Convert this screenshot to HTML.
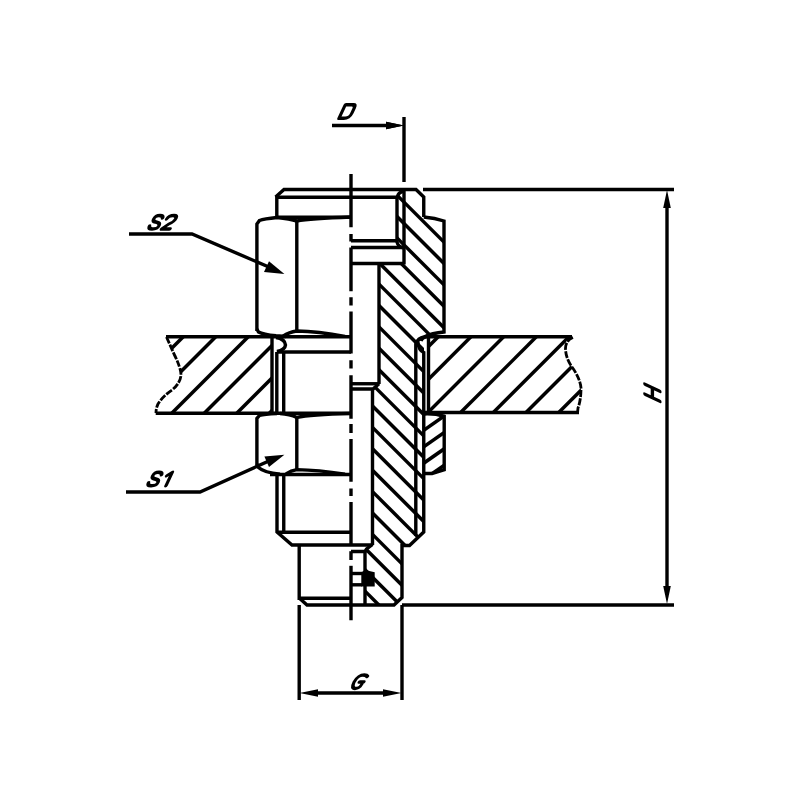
<!DOCTYPE html>
<html><head><meta charset="utf-8"><style>
html,body{margin:0;padding:0;background:#fff;}
svg{display:block;}
</style></head><body>
<svg width="800" height="800" viewBox="0 0 800 800">
<rect width="800" height="800" fill="#fff"/>
<defs>
<clipPath id="cb"><polygon points="397,197 399,192 404,190 404,189.5 416,189.5 424,197 424,217 444,221 444,332 432,334 424,337 424,532 410,545.5 402,545.5 402,597.5 394,605 365,605 365,551.5 367,549 372.5,544.5 372.5,389 379,383.75 379,263.5 404,263.5 404,248 400,246 397,242" fill="#000" stroke="none"/></clipPath>
<clipPath id="cn"><polygon points="424,414 435,414 444,416 444,469.7 432,473.5 424,473.5" fill="#000" stroke="none"/></clipPath>
<clipPath id="cl"><polygon points="166.5,337 272,337 272,413 156,413 156,408 158,404 163,397 172,390 180,383 181,375 178,364 174,354" fill="#000" stroke="none"/></clipPath>
<clipPath id="cr"><polygon points="428.5,337 573,337 566.5,341 565.5,348 566.5,358 572,367 578,376 581,388 580,400 578,408 577.5,413 428.5,413" fill="#000" stroke="none"/></clipPath>
</defs>
<g stroke="#000" fill="none" stroke-linecap="butt" stroke-linejoin="miter">
<g clip-path="url(#cb)"><line x1="350" y1="148.1" x2="450" y2="248.1" stroke-width="3.5"/><line x1="350" y1="169.5" x2="450" y2="269.5" stroke-width="3.5"/><line x1="350" y1="190.9" x2="450" y2="290.9" stroke-width="3.5"/><line x1="350" y1="212.3" x2="450" y2="312.3" stroke-width="3.5"/><line x1="350" y1="233.7" x2="450" y2="333.7" stroke-width="3.5"/><line x1="350" y1="255.1" x2="450" y2="355.1" stroke-width="3.5"/><line x1="350" y1="276.5" x2="450" y2="376.5" stroke-width="3.5"/><line x1="350" y1="297.9" x2="450" y2="397.9" stroke-width="3.5"/><line x1="350" y1="319.29999999999995" x2="450" y2="419.29999999999995" stroke-width="3.5"/><line x1="350" y1="340.7" x2="450" y2="440.7" stroke-width="3.5"/><line x1="350" y1="362.1" x2="450" y2="462.1" stroke-width="3.5"/><line x1="350" y1="383.5" x2="450" y2="483.5" stroke-width="3.5"/><line x1="350" y1="404.9" x2="450" y2="504.9" stroke-width="3.5"/><line x1="350" y1="426.29999999999995" x2="450" y2="526.3" stroke-width="3.5"/><line x1="350" y1="447.7" x2="450" y2="547.7" stroke-width="3.5"/><line x1="350" y1="469.09999999999997" x2="450" y2="569.0999999999999" stroke-width="3.5"/><line x1="350" y1="490.5" x2="450" y2="590.5" stroke-width="3.5"/><line x1="350" y1="511.9" x2="450" y2="611.9" stroke-width="3.5"/><line x1="350" y1="533.3" x2="450" y2="633.3" stroke-width="3.5"/><line x1="350" y1="554.7" x2="450" y2="654.7" stroke-width="3.5"/><line x1="350" y1="576.0999999999999" x2="450" y2="676.0999999999999" stroke-width="3.5"/><line x1="350" y1="597.5" x2="450" y2="697.5" stroke-width="3.5"/><line x1="350" y1="618.9" x2="450" y2="718.9" stroke-width="3.5"/></g><g clip-path="url(#cl)"><line x1="140" y1="347.5" x2="290" y2="197.5" stroke-width="3.5"/><line x1="140" y1="380.0" x2="290" y2="230.0" stroke-width="3.5"/><line x1="140" y1="412.5" x2="290" y2="262.5" stroke-width="3.5"/><line x1="140" y1="445.0" x2="290" y2="295.0" stroke-width="3.5"/><line x1="140" y1="477.5" x2="290" y2="327.5" stroke-width="3.5"/><line x1="140" y1="510.0" x2="290" y2="360.0" stroke-width="3.5"/><line x1="140" y1="542.5" x2="290" y2="392.5" stroke-width="3.5"/></g><g clip-path="url(#cr)"><line x1="420" y1="322.29999999999995" x2="600" y2="142.29999999999995" stroke-width="3.5"/><line x1="420" y1="355.0" x2="600" y2="175.0" stroke-width="3.5"/><line x1="420" y1="387.70000000000005" x2="600" y2="207.70000000000005" stroke-width="3.5"/><line x1="420" y1="420.4" x2="600" y2="240.39999999999998" stroke-width="3.5"/><line x1="420" y1="453.1" x2="600" y2="273.1" stroke-width="3.5"/><line x1="420" y1="485.79999999999995" x2="600" y2="305.79999999999995" stroke-width="3.5"/><line x1="420" y1="518.5" x2="600" y2="338.5" stroke-width="3.5"/><line x1="420" y1="551.2" x2="600" y2="371.20000000000005" stroke-width="3.5"/><line x1="420" y1="583.9000000000001" x2="600" y2="403.9000000000001" stroke-width="3.5"/></g><g clip-path="url(#cn)"><line x1="420" y1="416.7" x2="450" y2="395.7" stroke-width="3.5"/><line x1="420" y1="433.0" x2="450" y2="412.0" stroke-width="3.5"/><line x1="420" y1="449.5" x2="450" y2="428.5" stroke-width="3.5"/><line x1="420" y1="465.8" x2="450" y2="444.8" stroke-width="3.5"/><line x1="420" y1="482.1" x2="450" y2="461.1" stroke-width="3.5"/></g><line x1="351" y1="174" x2="351" y2="227.25" stroke-width="3.4"/><line x1="351" y1="234" x2="351" y2="241.5" stroke-width="3.4"/><line x1="351" y1="247.5" x2="351" y2="291.25" stroke-width="3.4"/><line x1="351" y1="297.25" x2="351" y2="305.5" stroke-width="3.4"/><line x1="351" y1="311.5" x2="351" y2="353.5" stroke-width="3.4"/><line x1="351" y1="360.25" x2="351" y2="368.5" stroke-width="3.4"/><line x1="351" y1="375.25" x2="351" y2="418.75" stroke-width="3.4"/><line x1="351" y1="424" x2="351" y2="433" stroke-width="3.4"/><line x1="351" y1="439" x2="351" y2="481.75" stroke-width="3.4"/><line x1="351" y1="488.5" x2="351" y2="496" stroke-width="3.4"/><line x1="351" y1="502" x2="351" y2="544.7" stroke-width="3.4"/><line x1="351" y1="551.2" x2="351" y2="560" stroke-width="3.4"/><line x1="351" y1="565.8" x2="351" y2="620.25" stroke-width="3.4"/><line x1="332" y1="125.5" x2="390" y2="125.5" stroke-width="3.4"/><polygon points="404,125.5 386,121.8 386,129.2" fill="#000" stroke="none"/><line x1="404" y1="117" x2="404" y2="182" stroke-width="3.4"/><line x1="423" y1="189.5" x2="674" y2="189.5" stroke-width="3.4"/><line x1="402" y1="605" x2="674" y2="605" stroke-width="3.4"/><line x1="667" y1="200" x2="667" y2="595" stroke-width="3.4"/><polygon points="667,190 663.2,208 670.8,208" fill="#000" stroke="none"/><polygon points="667,604 663.2,586 670.8,586" fill="#000" stroke="none"/><line x1="299.2" y1="605" x2="299.2" y2="700" stroke-width="3.4"/><line x1="402" y1="605" x2="402" y2="700" stroke-width="3.4"/><line x1="310" y1="693" x2="392" y2="693" stroke-width="3.4"/><polygon points="299.5,693 318,689.3 318,696.7" fill="#000" stroke="none"/><polygon points="401.5,693 383,689.3 383,696.7" fill="#000" stroke="none"/><path d="M129,234 L192,234 L270,267.5" stroke-width="3.4" fill="none"/><polygon points="284.4,274 269,261.3 264,272" fill="#000" stroke="none"/><path d="M126,492 L200,492 L270,460.5" stroke-width="3.4" fill="none"/><polygon points="284.4,454.7 264.4,456.6 269,467" fill="#000" stroke="none"/><path d="M275.6,197 L284,189.5 L416,189.5 L423.75,197 L423.75,217" stroke-width="3.4" fill="none"/><line x1="276.8" y1="197.25" x2="397" y2="197.25" stroke-width="3.4"/><path d="M276.8,196 L276.8,217.25 L351,217.25" stroke-width="3.4" fill="none"/><line x1="404" y1="188" x2="404" y2="264.5" stroke-width="3.4"/><path d="M404,191 Q398,192 397,198 L397,242 Q398,247 404,248" stroke-width="3.4" fill="none"/><line x1="351" y1="240.75" x2="397" y2="240.75" stroke-width="3.4"/><line x1="351" y1="247.5" x2="404" y2="247.5" stroke-width="3.4"/><line x1="351" y1="263.5" x2="404" y2="263.5" stroke-width="3.4"/><path d="M256.9,331 L256.9,224 L259.5,220.5 Q264,218.8 277,217.5 Q290,219 296.8,221 Q310,218.5 351,217" stroke-width="3.4" fill="none"/><line x1="296.8" y1="220" x2="296.8" y2="331.5" stroke-width="3.4"/><path d="M256.9,329 L258.5,332 Q263,334.5 276,335.8 L286,336.5" stroke-width="3.4" fill="none"/><path d="M283,336.2 Q289,332 296.8,331 Q318,331.5 345,336.3" stroke-width="3.4" fill="none"/><path d="M423.75,217 Q435,218 444,221 L444,332 Q432,333 424,337" stroke-width="3.4" fill="none"/><line x1="379" y1="263.5" x2="379" y2="384" stroke-width="3.4"/><line x1="166" y1="336.7" x2="351" y2="336.7" stroke-width="3.4"/><line x1="155.7" y1="413.3" x2="351" y2="413.3" stroke-width="3.4"/><path d="M166.5,337 L174,354 Q181,368 181,375 Q180.5,383 172,390 Q163,396 158,404 Q156,408 156,413" stroke-width="2.8" stroke-dasharray="7,1.4" fill="none"/><line x1="272" y1="336.7" x2="272" y2="413.3" stroke-width="3.4"/><path d="M276,337.5 Q285,339 285.5,345 Q285,350 277,351.5" stroke-width="3.4" fill="none"/><line x1="276.8" y1="352" x2="276.8" y2="413.3" stroke-width="3.4"/><line x1="283.7" y1="352" x2="283.7" y2="413.3" stroke-width="3.4"/><line x1="276.8" y1="352" x2="351" y2="352" stroke-width="3.4"/><path d="M421,341 Q422,337 428,336.8 L572,336.8" stroke-width="3.4" fill="none"/><line x1="424" y1="412.5" x2="579" y2="412.5" stroke-width="3.4"/><line x1="428.5" y1="337" x2="428.5" y2="412.5" stroke-width="3.4"/><path d="M573,337.5 Q566,340 565.5,348 Q565.5,358 572,367 Q580,378 581,388 Q581,400 578,408 L577.5,413" stroke-width="2.8" stroke-dasharray="7,1.4" fill="none"/><line x1="351" y1="383.75" x2="379" y2="383.75" stroke-width="3.4"/><path d="M351,389 L373,389 L379,383.75" stroke-width="3.4" fill="none"/><line x1="372.5" y1="389" x2="372.5" y2="545" stroke-width="3.4"/><path d="M415.8,536 L415.8,344 Q418,338 424,337" stroke-width="3.4" fill="none"/><path d="M417.8,341.5 Q418.5,350 423.75,352.5 L423.75,532 L409.5,545.5 L402,545.5 L402,597.5 L394,605 L307,605 L299.2,598" stroke-width="3.4" fill="none"/><path d="M372.5,544.5 L366.6,549 L365,551.5 L351,551.5" stroke-width="3.4" fill="none"/><line x1="365" y1="551.5" x2="365" y2="605" stroke-width="3.4"/><line x1="351" y1="573.5" x2="362" y2="573.5" stroke-width="3.4"/><line x1="351" y1="584.8" x2="362" y2="584.8" stroke-width="3.4"/><polygon points="361.3,572.2 365,570 374.7,572.2 374.7,586.5 361.3,586.5" fill="#000" stroke="none"/><path d="M256.9,465 L256.9,418.5 L259.5,415.5 Q264,414 277,413.5" stroke-width="3.4" fill="none"/><path d="M280,413.5 Q290,414 296.8,417.4 Q310,414.5 351,413.5" stroke-width="3.4" fill="none"/><line x1="296.8" y1="417" x2="296.8" y2="470" stroke-width="3.4"/><path d="M256.9,464 L258.5,467.5 Q264,472.5 280,474.3" stroke-width="3.4" fill="none"/><path d="M286,473.8 Q291,470.5 296.8,469.6 Q318,470 345,474.2" stroke-width="3.4" fill="none"/><line x1="270" y1="474.5" x2="351" y2="474.5" stroke-width="3.4"/><path d="M424,414 Q435,413.5 444.2,416.25 L444.2,469.7 L432,473.5 L424,473.5" stroke-width="3.4" fill="none"/><path d="M277,474.5 L277,532 L292,545 L372,545" stroke-width="3.4" fill="none"/><line x1="283.75" y1="474.5" x2="283.75" y2="532.3" stroke-width="3.4"/><line x1="277" y1="532.3" x2="351" y2="532.3" stroke-width="3.4"/><path d="M299.2,545 L299.2,598.25 L351,598.25" stroke-width="3.4" fill="none"/>
</g>
<g fill="#000" stroke="none">
<polygon points="404,125.5 386,121.8 386,129.2" fill="#000" stroke="none"/>
</g>
<path d="M0,0 L0,-13.5 L7.5,-13.5 Q10.5,-13.5 10.5,-10 L10.5,-5 Q10.5,0 5.5,0 Z" transform="translate(339,118.2)  skewX(-25)" stroke="#000" stroke-width="3.4" fill="none" stroke-linejoin="round" stroke-linecap="round"/><path d="M9.5,-11 Q9,-13.5 5,-13.5 Q1,-13.5 1,-10 Q1,-7.5 5,-6.8 Q9.5,-6 9.5,-3.2 Q9.5,0 4.8,0 Q0.3,0 0,-3" transform="translate(148,229)  skewX(-25)" stroke="#000" stroke-width="3.4" fill="none" stroke-linejoin="round" stroke-linecap="round"/><path d="M0.5,-10 Q1,-13.5 5.5,-13.5 Q9.5,-13.5 9.5,-10.5 Q9.5,-7.5 5,-5 L0,0 L8.5,0" transform="translate(161.5,229)  skewX(-25)" stroke="#000" stroke-width="3.4" fill="none" stroke-linejoin="round" stroke-linecap="round"/><path d="M9.5,-11 Q9,-13.5 5,-13.5 Q1,-13.5 1,-10 Q1,-7.5 5,-6.8 Q9.5,-6 9.5,-3.2 Q9.5,0 4.8,0 Q0.3,0 0,-3" transform="translate(147,485.8)  skewX(-25)" stroke="#000" stroke-width="3.4" fill="none" stroke-linejoin="round" stroke-linecap="round"/><path d="M4,-10 L8,-13.5 L8,0" transform="translate(158,485.8)  skewX(-25)" stroke="#000" stroke-width="3.4" fill="none" stroke-linejoin="round" stroke-linecap="round"/><path d="M11,-12 Q9.5,-13.5 6.5,-13.5 Q1,-13.5 0.3,-6.5 Q0,0 5,0 Q7.5,0 8.5,-2 L9.5,-6.5 M5.5,-6.5 L10,-6.5" transform="translate(350.8,688.5)  skewX(-25)" stroke="#000" stroke-width="3.4" fill="none" stroke-linejoin="round" stroke-linecap="round"/><path d="M0,0 L0,-15 M10,0 L10,-15 M0,-7.5 L10,-7.5" transform="translate(659.9,401.25) rotate(-90) skewX(-25)" stroke="#000" stroke-width="3.4" fill="none" stroke-linejoin="round" stroke-linecap="round"/>
</svg>
</body></html>
